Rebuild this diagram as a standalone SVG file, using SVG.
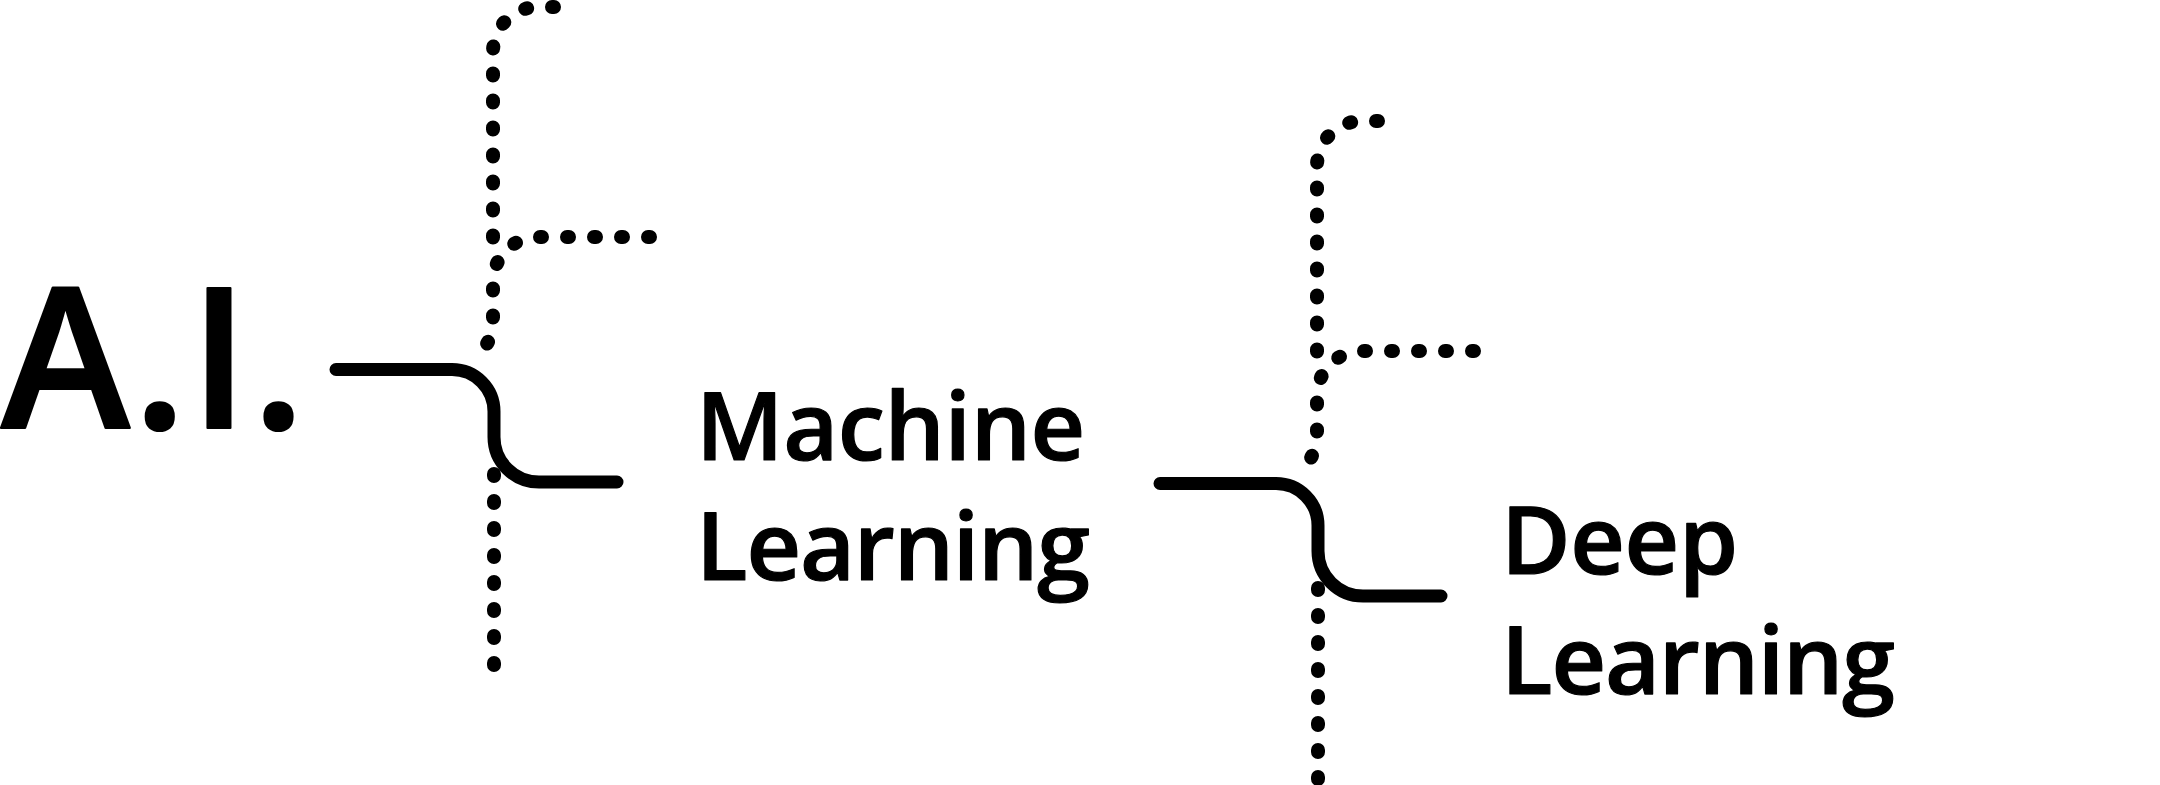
<svg xmlns="http://www.w3.org/2000/svg" width="2160" height="785" viewBox="0 0 2160 785">
  <style>
    .lbl { font-family: "Open Sans", "Liberation Sans", sans-serif; font-weight: 600; fill: #000; stroke: #000; stroke-linejoin: round; }
    .big { font-size: 195px; stroke-width: 2.2; letter-spacing: 3px; }
    .med { font-size: 95px; stroke-width: 1.2; }
    .solid { fill: none; stroke: #000; stroke-width: 13; stroke-linecap: round; stroke-linejoin: round; }
    .dots { fill: none; stroke: #000; stroke-width: 14; stroke-linecap: round; stroke-dasharray: 2 25; }
  </style>
  <rect width="2160" height="785" fill="#fff"/>
  <g id="connectors">
    <g id="tree-ai-ml">
      <path class="dots" d="M554,7 H538 A45,45 0 0 0 493,52 V238"/>
      <path class="dots" d="M650,237 H538 A45,45 0 0 0 493,282 V320 A50,50 0 0 1 486.4,344.9"/>
      <path class="dots" d="M494,474 V666"/>
      <path class="solid" d="M336,369.5 H452 A42,42 0 0 1 494,411.5 V437 A45,45 0 0 0 539,482 H617"/>
    </g>
    <g id="tree-ml-dl" transform="translate(824,114)">
      <path class="dots" d="M554,7 H538 A45,45 0 0 0 493,52 V238"/>
      <path class="dots" d="M650,237 H538 A45,45 0 0 0 493,282 V320 A50,50 0 0 1 486.4,344.9"/>
      <path class="dots" d="M494,474 V700"/>
      <path class="solid" d="M336,369.5 H452 A42,42 0 0 1 494,411.5 V437 A45,45 0 0 0 539,482 H617"/>
    </g>
  </g>
  <g id="node-ai">
    <text class="lbl big" x="1" y="428">A.I.</text>
  </g>
  <g id="node-ml">
    <text class="lbl med" x="696" y="460" letter-spacing="-0.4">Machine</text>
    <text class="lbl med" x="696" y="579.5" letter-spacing="-1.2">Learning</text>
  </g>
  <g id="node-dl">
    <text class="lbl med" x="1501" y="573.5" letter-spacing="-0.4">Deep</text>
    <text class="lbl med" x="1501" y="693.5" letter-spacing="-1.2">Learning</text>
  </g>
</svg>
